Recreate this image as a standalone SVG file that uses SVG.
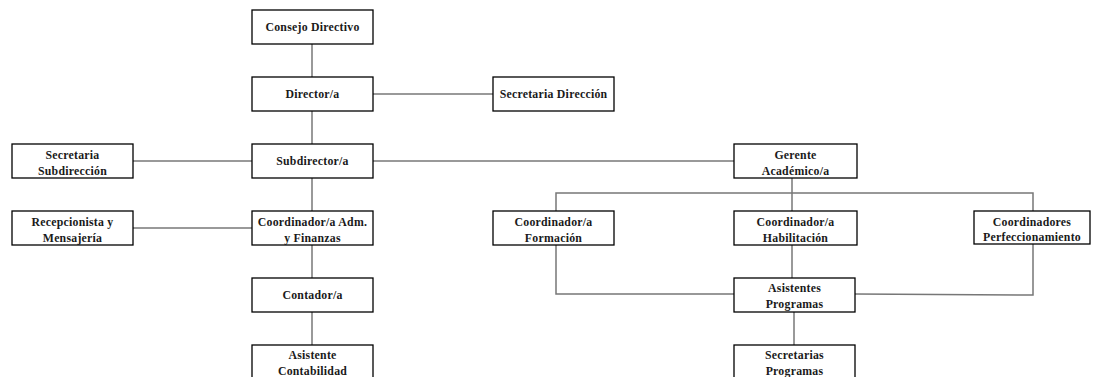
<svg xmlns="http://www.w3.org/2000/svg" width="1098" height="377" viewBox="0 0 1098 377">
<style>
.b{fill:#fff;stroke:#000;stroke-width:1.3}
.t{font-family:"Liberation Serif",serif;font-weight:bold;font-size:11.8px;letter-spacing:0.25px;fill:#1a1a1a;text-anchor:middle}
.c{stroke:#777;stroke-width:1.5;fill:none}
</style>
<rect width="1098" height="377" fill="#fff"/>
<g id="connectors">
<line class="c" x1="312" y1="44" x2="312" y2="77"/>
<line class="c" x1="373" y1="94" x2="493" y2="94"/>
<line class="c" x1="312" y1="111" x2="312" y2="144"/>
<line class="c" x1="133" y1="161" x2="252" y2="161"/>
<line class="c" x1="373" y1="161" x2="734" y2="161"/>
<line class="c" x1="312" y1="178" x2="312" y2="211"/>
<line class="c" x1="133" y1="228" x2="252" y2="228"/>
<line class="c" x1="312" y1="245" x2="312" y2="278"/>
<line class="c" x1="312" y1="312" x2="312" y2="345"/>
<line class="c" x1="792" y1="178" x2="792" y2="211"/>
<polyline class="c" points="556,211 556,193 1033,193 1033,211"/>
<line class="c" x1="792" y1="245" x2="792" y2="278"/>
<polyline class="c" points="556,245 556,294 734,294"/>
<polyline class="c" points="855,294 1033,295 1033,244"/>
<line class="c" x1="794" y1="312" x2="794" y2="345"/>
</g>
<g id="consejo"><rect class="b" x="252" y="10" width="121" height="34"/><text class="t" x="312.5" y="31">Consejo Directivo</text></g>
<g id="director"><rect class="b" x="252" y="77" width="121" height="34"/><text class="t" x="312.5" y="98">Director/a</text></g>
<g id="secdir"><rect class="b" x="493" y="77" width="121" height="34"/><text class="t" x="553.5" y="98">Secretaria Dirección</text></g>
<g id="subdirector"><rect class="b" x="252" y="144" width="121" height="34"/><text class="t" x="312.5" y="165">Subdirector/a</text></g>
<g id="secsub"><rect class="b" x="12" y="144" width="121" height="34"/><text class="t" x="72.5" y="159">Secretaria</text><text class="t" x="72.5" y="175">Subdirección</text></g>
<g id="recep"><rect class="b" x="12" y="211" width="121" height="34"/><text class="t" x="72.5" y="226">Recepcionista y</text><text class="t" x="72.5" y="242">Mensajería</text></g>
<g id="coordadm"><rect class="b" x="252" y="211" width="121" height="34"/><text class="t" x="312.5" y="226">Coordinador/a Adm.</text><text class="t" x="312.5" y="242">y Finanzas</text></g>
<g id="contador"><rect class="b" x="252" y="278" width="121" height="34"/><text class="t" x="312.5" y="299">Contador/a</text></g>
<g id="asistcont"><rect class="b" x="252" y="345" width="121" height="34"/><text class="t" x="312.5" y="359">Asistente</text><text class="t" x="312.5" y="375">Contabilidad</text></g>
<g id="gerente"><rect class="b" x="734" y="144" width="123" height="34"/><text class="t" x="795.5" y="159">Gerente</text><text class="t" x="795.5" y="175">Académico/a</text></g>
<g id="formacion"><rect class="b" x="493" y="211" width="121" height="34"/><text class="t" x="553.5" y="226">Coordinador/a</text><text class="t" x="553.5" y="242">Formación</text></g>
<g id="habilitacion"><rect class="b" x="734" y="211" width="123" height="34"/><text class="t" x="795.5" y="226">Coordinador/a</text><text class="t" x="795.5" y="242">Habilitación</text></g>
<g id="perfeccionamiento"><rect class="b" x="974" y="211" width="116" height="33"/><text class="t" x="1032" y="226">Coordinadores</text><text class="t" x="1032" y="241">Perfeccionamiento</text></g>
<g id="asistprog"><rect class="b" x="734" y="278" width="121" height="34"/><text class="t" x="794.5" y="292">Asistentes</text><text class="t" x="794.5" y="308">Programas</text></g>
<g id="secprog"><rect class="b" x="734" y="345" width="121" height="34"/><text class="t" x="794.5" y="359">Secretarias</text><text class="t" x="794.5" y="375">Programas</text></g>
</svg>
